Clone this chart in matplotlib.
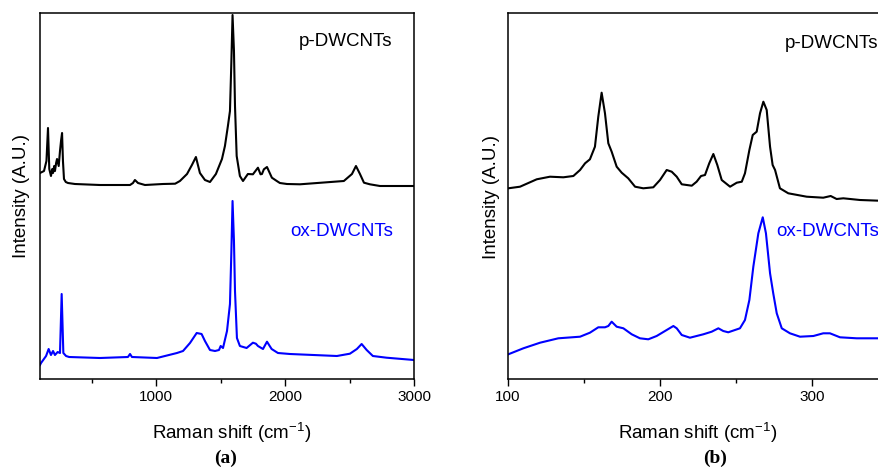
import matplotlib
matplotlib.use("Agg")
import matplotlib.pyplot as plt
from matplotlib.ticker import MultipleLocator

plt.rcParams['font.family'] = ['Liberation Sans', 'DejaVu Sans']
plt.rcParams['mathtext.fontset'] = 'custom'
plt.rcParams['mathtext.rm'] = 'Liberation Sans'
plt.rcParams['mathtext.it'] = 'Liberation Sans'

# ---------------- Panel (a): full spectra ----------------
a_p_x = [100, 131, 150, 162, 172, 185, 195, 201, 210, 216, 225, 232, 245, 255, 263, 271,
         278, 286, 300, 317, 371, 565, 798, 821, 836, 860, 914, 1053, 1148, 1185, 1240,
         1278, 1309, 1340, 1379, 1418, 1464, 1511, 1534, 1557, 1573, 1584, 1593, 1604,
         1612, 1625, 1650, 1674, 1712, 1751, 1790, 1810, 1821, 1836, 1860, 1898, 1936,
         1960, 2015, 2116, 2456, 2519, 2550, 2581, 2612, 2658, 2736, 3000]
a_p_y = [206, 208, 218, 251, 210, 203, 210, 206, 213, 208, 216, 220, 213, 228, 238, 246,
         218, 200, 197, 196, 195, 194, 194, 196, 199, 196, 194, 195, 195.3, 198, 205,
         214, 222, 206, 199, 197, 205, 220, 233, 253, 268, 318, 364, 328, 273, 223, 203,
         198, 205, 204.7, 211.3, 204.7, 205, 209.7, 212, 201.3, 198, 196, 195, 194.7,
         198, 205, 213, 205, 196.3, 194.7, 193, 193]

a_ox_x = [100, 108, 147, 167, 185, 201, 216, 237, 255, 268, 281, 302, 326, 565, 782, 798,
          813, 1007, 1162, 1209, 1263, 1315, 1353, 1379, 1418, 1457, 1488, 1501, 1519,
          1550, 1573, 1584, 1593, 1604, 1612, 1627, 1650, 1702, 1751, 1774, 1790, 1829,
          1860, 1896, 1945, 2038, 2402, 2503, 2557, 2594, 2633, 2681, 2787, 3000]
a_ox_y = [14, 16, 23, 30, 24, 28, 24, 27, 26, 85, 26, 23, 22, 21, 22, 25,
          22, 21, 26, 28, 36, 46, 45, 38, 29, 28, 29, 33, 31,
          48, 75, 128, 178, 138, 88, 41, 33, 31, 36.3, 35.3, 33, 30,
          37.3, 30, 26, 25, 23, 25.3, 30, 35, 29, 23, 21.3, 19]

# ---------------- Panel (b): RBM region ----------------
b_p_x = [100.2, 107.9, 118.9, 127.6, 136.4, 143, 147.4, 150.7, 153.9, 157.2, 159.4, 161.6,
         163.8, 166, 168.2, 171.5, 174.8, 179.1, 183.6, 189, 195.6, 200, 204.4, 207.7,
         211, 214.3, 220.9, 224.1, 227, 229.6, 232.4, 235.1, 237.7, 240.6, 246.1, 250.5,
         253.8, 255.9, 258.8, 261, 263.6, 265.8, 268, 270.2, 272.4, 274.1, 275.7, 278.9,
         284.4, 296.5, 307.4, 312.3, 316.2, 320.6, 331.6, 344.1, 360]
b_p_y = [190.7, 192.3, 199.7, 202.3, 201.7, 203, 209, 215.7, 219.7, 232.3, 262.3, 286.3,
         265.7, 235.7, 227.3, 212.3, 206.3, 200.7, 192.3, 190.7, 191.7, 199, 209, 207.3,
         202.3, 194.7, 193.3, 197.3, 203, 204, 215.7, 225, 214, 199, 192.3, 196.3,
         197.3, 205.7, 229, 244, 247.3, 265.7, 277.3, 269, 232.3, 214, 209, 190.7,
         185.7, 182.3, 181.3, 183, 180, 180.7, 179, 178.3, 178]

b_ox_x = [100.2, 110.1, 121.1, 133.1, 147.4, 153.9, 159.4, 163.8, 166, 168.2, 171.5, 175.9,
          181.4, 186.8, 192.3, 197.8, 204.4, 208.8, 211, 214.3, 219.7, 228.5, 234, 238.4,
          241.6, 244.9, 252.6, 255.9, 258.8, 261.4, 264.7, 267.6, 269.7, 272.4, 274.5,
          276.8, 280.1, 285.5, 292.1, 300.9, 307.4, 311.8, 318.4, 329.4, 344.1, 360]
b_ox_y = [24.7, 30.7, 36.3, 40.7, 42.3, 46.3, 51.7, 51.7, 53, 57.3, 52.3, 50.7,
          44.7, 40.7, 39.7, 43, 49, 53, 50.7, 44, 41.3, 44.7, 47.3, 50.7,
          48, 46.7, 50.7, 59, 79, 112.3, 145.7, 161.7, 145.7, 105.7, 85.7,
          65.7, 50.7, 45.7, 42.3, 43, 45.7, 45.7, 41.7, 40.7, 40.7, 40.7]

labels = ["p-DWCNTs", "ox-DWCNTs"]
colors = ["black", "#0000ff"]
a_major = [1000, 2000, 3000]
b_major = [100, 200, 300]
b_minor = [150, 250, 350]

W, H = 879, 470
fig = plt.figure(figsize=(W / 100, H / 100), dpi=100)

def frac(x0, y_top, x1, y_bot):
    return [x0 / W, (H - y_bot) / H, (x1 - x0) / W, (y_bot - y_top) / H]

ax1 = fig.add_axes(frac(40, 13, 414, 379))
ax2 = fig.add_axes(frac(508, 13, 964, 379))

lw = 1.5
ax1.plot(a_p_x, a_p_y, color=colors[0], lw=lw)
ax1.plot(a_ox_x, a_ox_y, color=colors[1], lw=lw)
ax1.set_xlim(100, 3000)
ax1.set_ylim(0, 366)
ax1.set_xticks(a_major)
ax1.xaxis.set_minor_locator(MultipleLocator(500))

ax2.plot(b_p_x, b_p_y, color=colors[0], lw=lw)
ax2.plot(b_ox_x, b_ox_y, color=colors[1], lw=lw)
ax2.set_xlim(100, 400)
ax2.set_ylim(0, 366)
ax2.set_xticks(b_major)
ax2.set_xticks(b_minor, minor=True)

for ax in (ax1, ax2):
    ax.set_yticks([])
    ax.tick_params(axis='x', which='major', direction='out', length=5, width=1.0,
                   labelsize=11, pad=3)
    ax.tick_params(axis='x', which='minor', direction='out', length=3, width=1.0)
    for s in ax.spines.values():
        s.set_linewidth(1.1)
    ax.set_xlabel(r'Raman shift (cm$^{-1}$)', fontsize=13.5)
    ax.set_ylabel('Intensity (A.U.)', fontsize=13.5)
    ax.xaxis.label.set_va('center')
    ax.yaxis.label.set_va('center')

ax1.xaxis.set_label_coords((232 - 40) / 374, (379 - 433) / 366)
ax1.yaxis.set_label_coords((22 - 40) / 374, (379 - 196) / 366)
ax2.xaxis.set_label_coords((698 - 508) / 456, (379 - 433) / 366)
ax2.yaxis.set_label_coords((492 - 508) / 456, (379 - 197) / 366)

ax1.text((346 - 40) / 374, (379 - 42) / 366, labels[0], color=colors[0], fontsize=13.5,
         ha='center', va='center', transform=ax1.transAxes)
ax1.text((342 - 40) / 374, (379 - 231) / 366, labels[1], color=colors[1], fontsize=13.5,
         ha='center', va='center', transform=ax1.transAxes)
ax2.text((785 - 508) / 456, (379 - 43) / 366, labels[0], color=colors[0], fontsize=13.5,
         ha='left', va='center', transform=ax2.transAxes)
ax2.text((776 - 508) / 456, (379 - 231) / 366, labels[1], color=colors[1], fontsize=13.5,
         ha='left', va='center', transform=ax2.transAxes)

fig.text(226 / W, 3 / H, '(a)', fontsize=14, fontweight='bold',
         family=['Liberation Serif', 'DejaVu Serif'], ha='center', va='bottom')
fig.text(715 / W, 3 / H, '(b)', fontsize=14, fontweight='bold',
         family=['Liberation Serif', 'DejaVu Serif'], ha='center', va='bottom')

fig.savefig('out.png', dpi=100)
